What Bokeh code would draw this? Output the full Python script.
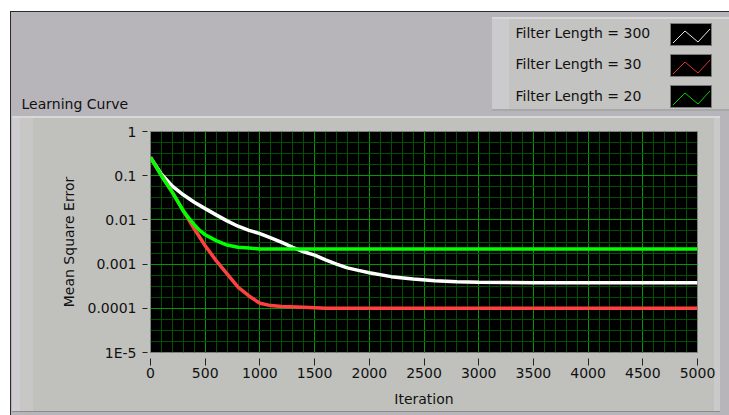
from urllib.parse import quote
from bokeh.plotting import figure
from bokeh.models import (Label, FixedTicker, SingleIntervalTicker,
                          CustomJSTickFormatter)
from bokeh.embed import file_html
from bokeh.resources import INLINE

# ---------------- data ----------------
iters_300 = [0, 100, 200, 300, 400, 500, 600, 700, 800, 900, 1000, 1100, 1200,
             1300, 1400, 1500, 1600, 1700, 1800, 1900, 2000, 2200, 2400, 2600,
             2800, 3000, 3500, 4000, 4500, 5000]
mse_300 = [0.26, 0.108, 0.058, 0.037, 0.025, 0.018, 0.013, 0.0095, 0.0072,
           0.0058, 0.0049, 0.0039, 0.0031, 0.0024, 0.0019, 0.0016, 0.00125,
           0.001, 0.00082, 0.00072, 0.00064, 0.00052, 0.00046, 0.00042,
           0.0004, 0.00039, 0.00038, 0.00038, 0.00038, 0.00038]

iters_30 = [0, 100, 200, 300, 400, 500, 600, 700, 800, 900, 1000, 1100, 1200,
            1400, 1600, 2000, 2500, 3000, 3500, 4000, 4500, 5000]
mse_30 = [0.26, 0.1, 0.042, 0.016, 0.0063, 0.0026, 0.0012, 0.0006, 0.0003,
          0.00019, 0.00013, 0.000115, 0.00011, 0.000105, 0.0001, 0.0001,
          0.0001, 0.0001, 0.0001, 0.0001, 0.0001, 0.0001]

iters_20 = [0, 100, 200, 300, 350, 400, 450, 500, 600, 700, 800, 900, 1000,
            1500, 2000, 3000, 4000, 5000]
mse_20 = [0.26, 0.1, 0.042, 0.016, 0.011, 0.0078, 0.0058, 0.0046, 0.0034,
          0.0027, 0.0024, 0.0023, 0.0022, 0.0022, 0.0022, 0.0022, 0.0022,
          0.0022]

series_labels = ["Filter Length = 300", "Filter Length = 30", "Filter Length = 20"]
series_colors = ["#ffffff", "#ff4040", "#00ff00"]
icon_colors = ["#e6e6e6", "#e03434", "#00d400"]

y_tick_values = [1, 0.1, 0.01, 0.001, 0.0001, 0.00001]
y_tick_labels = ["1", "0.1", "0.01", "0.001", "0.0001", "1E-5"]

chart_title = "Learning Curve"
x_label = "Iteration"
y_label = "Mean Square Error"

# ---------------- layout ----------------
W, H = 729, 415
FL, FT, FR, FB = 150, 131, 697, 352
FONT = "DejaVu Sans"

p = figure(width=W, height=H, output_backend="svg", toolbar_location=None,
           y_axis_type="log", x_range=(0, 5000), y_range=(1e-5, 1),
           min_border_left=FL, min_border_right=W - FR,
           min_border_top=FT, min_border_bottom=H - FB,
           background_fill_color="black")
p.border_fill_alpha = 0
p.outline_line_color = "#808080"

# ---- front-panel decoration (panels, bevels, legend swatches) as CSS background
rects = [
    (0, 0, W, H, "#ffffff"),
    (10, 11, W, H, "#b7b5b9"),
    (10, 11, W, 12, "#2b2b2b"),
    (10, 11, 11, H, "#2b2b2b"),
    (12, 116, 720, 412, "#c0c1bd"),
    (12, 116, 20, 412, "#cfcdd1"),
    (20, 118, 33, 411, "#c7c8c5"),
    (12, 116, 720, 118, "#d8d8d8"),
    (714, 118, 720, 411, "#cacaca"),
    (12, 411, 720, 412, "#8a8a8a"),
    (492, 17, W, 111, "#c3c3c1"),
    (492, 17, 509, 111, "#cbcacd"),
    (492, 17, W, 19, "#d6d6d6"),
    (492, 109, W, 111, "#a8a8a8"),
]
icon_tops = [23, 54, 85]
svg = ["<svg xmlns='http://www.w3.org/2000/svg' width='%d' height='%d'>" % (W, H)]
for x0, y0, x1, y1, c in rects:
    svg.append("<rect x='%d' y='%d' width='%d' height='%d' fill='%s' "
               "shape-rendering='crispEdges'/>" % (x0, y0, x1 - x0, y1 - y0, c))
for t, c in zip(icon_tops, icon_colors):
    svg.append("<rect x='670.5' y='%.1f' width='41' height='22' fill='#000' "
               "stroke='#7a7a7a' stroke-width='1'/>" % (t + 0.5))
    pts = [(673, t + 20), (685, t + 8), (698, t + 19), (710, t + 6)]
    svg.append("<polyline points='%s' fill='none' stroke='%s' stroke-width='1'/>"
               % (" ".join("%d,%d" % q for q in pts), c))
svg.append("</svg>")
p.styles = {"background": 'url("data:image/svg+xml,%s") no-repeat 0 0 / %dpx %dpx'
            % (quote("".join(svg)), W, H)}

# ---- texts (real text, placed in the panel above the plot area)
p.add_layout(Label(x=21 - FL, y=FT - 103, x_units="screen", y_units="screen",
                   text=chart_title, text_font=FONT, text_font_size="14px",
                   text_baseline="middle", text_color="#111111"), "above")
SLOT1 = 17  # offset of the second stacked slot (calibrated)
p.add_layout(Label(x=515 - FL, y=FT - SLOT1 - 63.0, x_units="screen", y_units="screen",
                   text="\n".join(series_labels), text_font=FONT,
                   text_font_size="14px", text_line_height=1.96,
                   text_baseline="middle", text_color="#111111"), "above")

# ---------------- data lines ----------------
for xs, ys, col in [(iters_300, mse_300, series_colors[0]),
                    (iters_30, mse_30, series_colors[1]),
                    (iters_20, mse_20, series_colors[2])]:
    p.line(xs, ys, line_color=col, line_width=3.5)

# ---------------- axes & grid ----------------
xt = SingleIntervalTicker(interval=500, num_minor_ticks=5)
minor_y = []
for e in range(-5, 0):
    for j in range(1, 4):
        minor_y.append(10 ** (e + j / 4))
yt = FixedTicker(ticks=y_tick_values, minor_ticks=minor_y)
p.xaxis.ticker = xt
p.yaxis.ticker = yt
p.xgrid.ticker = xt
p.ygrid.ticker = yt
p.yaxis.formatter = CustomJSTickFormatter(
    args=dict(vals=y_tick_values, labs=y_tick_labels),
    code="""
const i = vals.findIndex(v => Math.abs(Math.log10(v) - Math.log10(tick)) < 1e-6);
return i >= 0 ? labs[i] : "";
""")

for g in (p.xgrid, p.ygrid):
    g.grid_line_color = "#009a00"
    g.grid_line_width = 1
    g.minor_grid_line_color = "#005200"
    g.minor_grid_line_width = 1

for ax in (p.xaxis, p.yaxis):
    ax.axis_line_color = None
    ax.minor_tick_line_color = None
    ax.major_tick_line_color = "#222222"
    ax.major_label_text_font = FONT
    ax.major_label_text_font_size = "14px"
    ax.major_label_text_color = "#111111"
    ax.axis_label_text_font = FONT
    ax.axis_label_text_font_size = "14px"
    ax.axis_label_text_font_style = "normal"
    ax.axis_label_text_color = "#111111"

p.xaxis.major_tick_in = -6
p.xaxis.major_tick_out = 13
p.xaxis.major_label_standoff = 2
p.xaxis.axis_label = x_label
p.xaxis.axis_label_standoff = 10

p.yaxis.major_tick_in = -3
p.yaxis.major_tick_out = 8
p.yaxis.major_label_standoff = 6
p.yaxis.axis_label = y_label
p.yaxis.axis_label_standoff = 8

open("out.html", "w").write(file_html(p, INLINE))
